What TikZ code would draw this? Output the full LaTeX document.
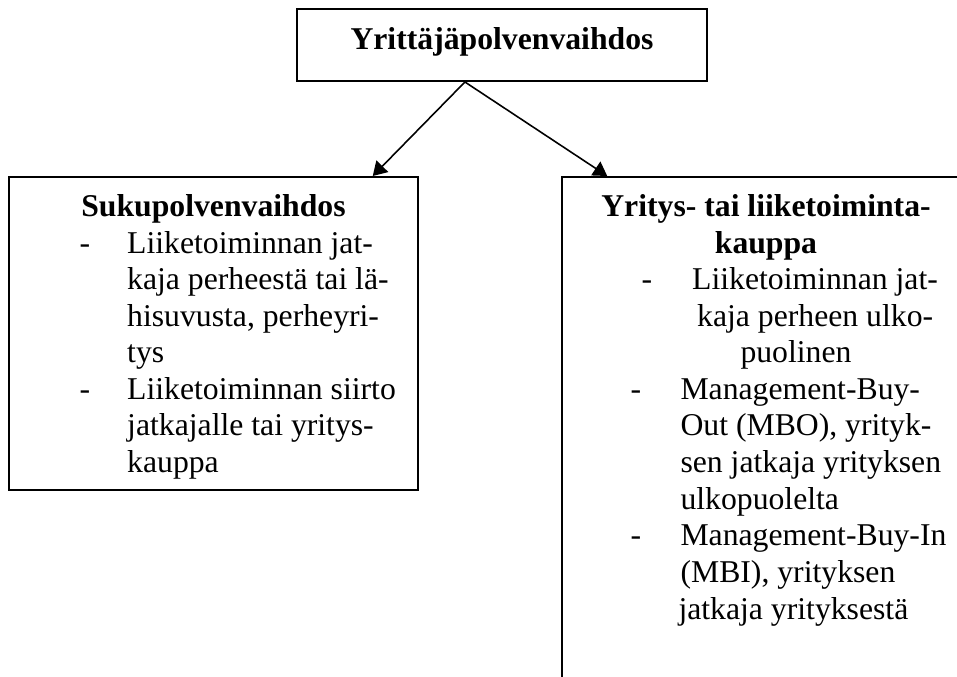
\documentclass[tikz,border=0pt]{standalone}
\usepackage{fontspec}
\setmainfont{Liberation Serif}
\usetikzlibrary{arrows.meta,fit,calc}
\begin{document}
\begin{tikzpicture}[x=0.3785pt,y=-0.3785pt,
  box/.style={draw, line width=0.75pt, inner sep=0pt},
  txt/.style={anchor=base west, inner sep=0pt, font=\fontsize{12}{13.8}\selectfont},
  head/.style={anchor=base, inner sep=0pt, font=\fontsize{12}{13.8}\selectfont\bfseries},
  link/.style={line width=0.6pt, -{Triangle[length=5.2pt,width=6.2pt]}}]
\useasboundingbox (0,0) rectangle (957,677);
\fill[white] (0,0) rectangle (957,677);

% boxes (the right one runs past the page edge)
\begin{scope}
  \clip (0,0) rectangle (957,677);
  \node[box, fit={(297,9) (707,81)}] (top) {};
  \node[box, fit={(9,177) (418,490)}] (left) {};
  \node[box, fit={(562,177) (1010,720)}] (right) {};
\end{scope}

% connectors
\draw[link] ($(top.south west)!0.41!(top.south east)$) -- ($(left.north west)!0.8875!(left.north east)$);
\draw[link] ($(top.south west)!0.41!(top.south east)$) -- ($(right.north west)!0.1027!(right.north east)$);

% top title
\node[head] (toptitle) at (502,50) {Yrittäjäpolvenvaihdos};

% left box
\node[head] (lefttitle) at (213.5,216.7) {Sukupolvenvaihdos};
\node[txt] (ld1) at (79,253.3) {-};
\node[txt] (l1) at (126.7,253.3) {Liiketoiminnan jat-};
\node[txt] (l2) at (126.7,290) {kaja perheestä tai lä-};
\node[txt] (l3) at (126.7,326.5) {hisuvusta, perheyri-};
\node[txt] (l4) at (126.7,363) {tys};
\node[txt] (ld2) at (79,399.7) {-};
\node[txt] (l5) at (126.7,399.7) {Liiketoiminnan siirto};
\node[txt] (l6) at (126.7,436) {jatkajalle tai yritys-};
\node[txt] (l7) at (126.7,473) {kauppa};

% right box
\node[head] (righttitle1) at (766,216.7) {Yritys- tai liiketoiminta-};
\node[head] (righttitle2) at (766,253.3) {kauppa};
\node[txt] (rd1) at (641,290) {-};
\node[txt] (r1) at (691.7,290) {Liiketoiminnan jat-};
\node[txt] (r2) at (696.7,326.5) {kaja perheen ulko-};
\node[txt] (r3) at (740,363) {puolinen};
\node[txt] (rd2) at (630,399.7) {-};
\node[txt] (r4) at (680,399.7) {Management-Buy-};
\node[txt] (r5) at (680,436) {Out (MBO), yrityk-};
\node[txt] (r6) at (680,473) {sen jatkaja yrityksen};
\node[txt] (r7) at (680,509.5) {ulkopuolelta};
\node[txt] (rd3) at (630,546) {-};
\node[txt] (r8) at (680,546) {Management-Buy-In};
\node[txt] (r9) at (680,583) {(MBI), yrityksen};
\node[txt] (r10) at (678,619.3) {jatkaja yrityksestä};
\end{tikzpicture}
\end{document}
